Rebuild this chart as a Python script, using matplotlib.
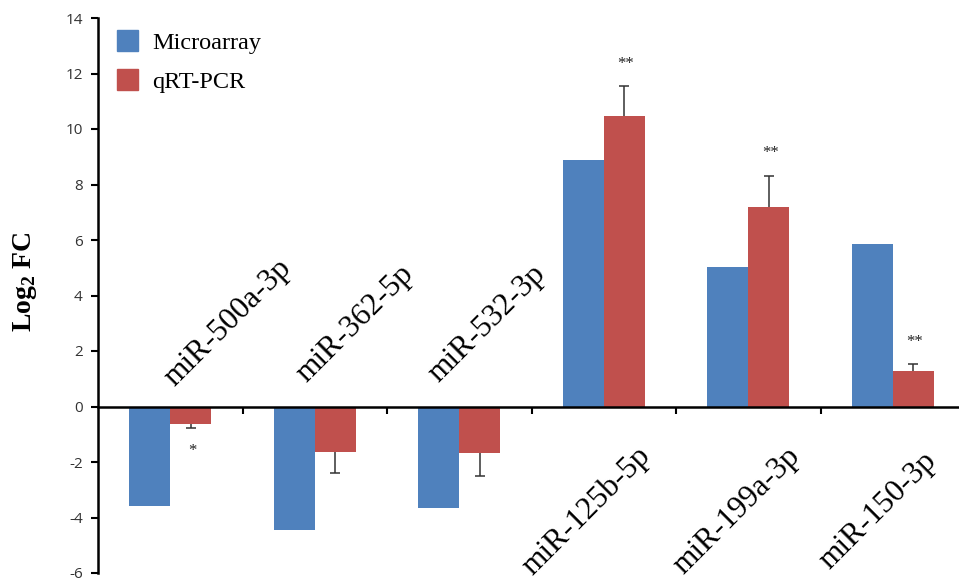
import matplotlib
matplotlib.use("Agg")
import matplotlib.pyplot as plt
import numpy as np
from matplotlib.patches import Patch

categories = ["miR-500a-3p", "miR-362-5p", "miR-532-3p",
              "miR-125b-5p", "miR-199a-3p", "miR-150-3p"]
microarray = [-3.57, -4.45, -3.67, 8.88, 5.04, 5.86]
qrt_pcr = [-0.63, -1.65, -1.68, 10.48, 7.19, 1.28]
qrt_pcr_err = [0.13, 0.76, 0.81, 1.07, 1.13, 0.24]
significance = ["*", "", "", "**", "**", "**"]
y_ticks = [-6, -4, -2, 0, 2, 4, 6, 8, 10, 12, 14]

BLUE = "#4F81BD"
RED = "#C0504D"
SERIF = ["Liberation Serif", "DejaVu Serif"]

W, H = 959, 581
fig = plt.figure(figsize=(W / 100, H / 100), dpi=100)
ax = fig.add_axes([98 / W, 1 - 573 / H, (965 - 98) / W, (573 - 18) / H])

x = np.arange(len(categories))
bw = 0.285
ax.bar(x - bw / 2, microarray, width=bw, color=BLUE, label="Microarray", zorder=2)
ax.bar(x + bw / 2, qrt_pcr, width=bw, color=RED, label="qRT-PCR", zorder=2)

# one-sided error bars pointing away from zero, capped only at the far end
vals = np.array(qrt_pcr)
errs = np.array(qrt_pcr_err)
ends = np.where(vals < 0, vals - errs, vals + errs)
xe = x + bw / 2
ax.vlines(xe, vals, ends, colors="#333333", linewidth=1.1, zorder=3)
cap = 0.035
ax.hlines(ends, xe - cap, xe + cap, colors="#333333", linewidth=1.1, zorder=3)

# significance markers
for xi, v, e, s in zip(xe, vals, errs, significance):
    if not s:
        continue
    yy = v + e + 0.8 if v >= 0 else v - e - 0.84
    ax.text(xi + 0.01, yy, s, ha="center", va="center",
            fontsize=12, color="#222222", family=SERIF)

ax.set_xlim(-0.5, len(categories) - 0.5)
ax.set_ylim(-6, 14)
ax.set_yticks(y_ticks)
ax.set_yticklabels([str(t) for t in y_ticks], family=["Open Sans", "DejaVu Sans"],
                   fontsize=11, color="#333333")
ax.tick_params(axis="y", direction="out", length=5, width=1.5, pad=6)

# category boundaries as ticks on the zero line
ax.set_xticks(x[:-1] + 0.5)
ax.set_xticklabels([])
ax.tick_params(axis="x", direction="out", length=5, width=1.5)

ax.spines["top"].set_visible(False)
ax.spines["right"].set_visible(False)
ax.spines["bottom"].set_position(("data", 0))
ax.spines["bottom"].set_linewidth(1.8)
ax.spines["left"].set_linewidth(1.8)
ax.spines["bottom"].set_zorder(4)

# rotated category labels
label_dx = [0.40, 0.28, 0.19, -0.12, -0.08, -0.10]
for xi, name, v, dx in zip(x, categories, microarray, label_dx):
    yy = 3.0 if v < 0 else -3.75
    ax.text(xi + dx, yy, name, rotation=45, ha="center", va="center",
            rotation_mode="anchor", fontsize=22.5, family=SERIF, color="black")

ax.set_ylabel(r"Log$_\mathregular{2}$ FC", family=SERIF, fontsize=20,
              fontweight="bold")
ax.yaxis.set_label_coords(-0.068, 0.525)

handles = [Patch(color=BLUE, label="Microarray"), Patch(color=RED, label="qRT-PCR")]
leg = fig.legend(handles=handles, loc="upper left",
                 bbox_to_anchor=(117 / W, 1 - 30 / H), bbox_transform=fig.transFigure,
                 frameon=False, prop={"family": SERIF, "size": 17.5},
                 handlelength=0.85, handleheight=0.95, handletextpad=0.6,
                 labelspacing=0.62, borderpad=0, borderaxespad=0)

fig.savefig("out.png", dpi=100)
